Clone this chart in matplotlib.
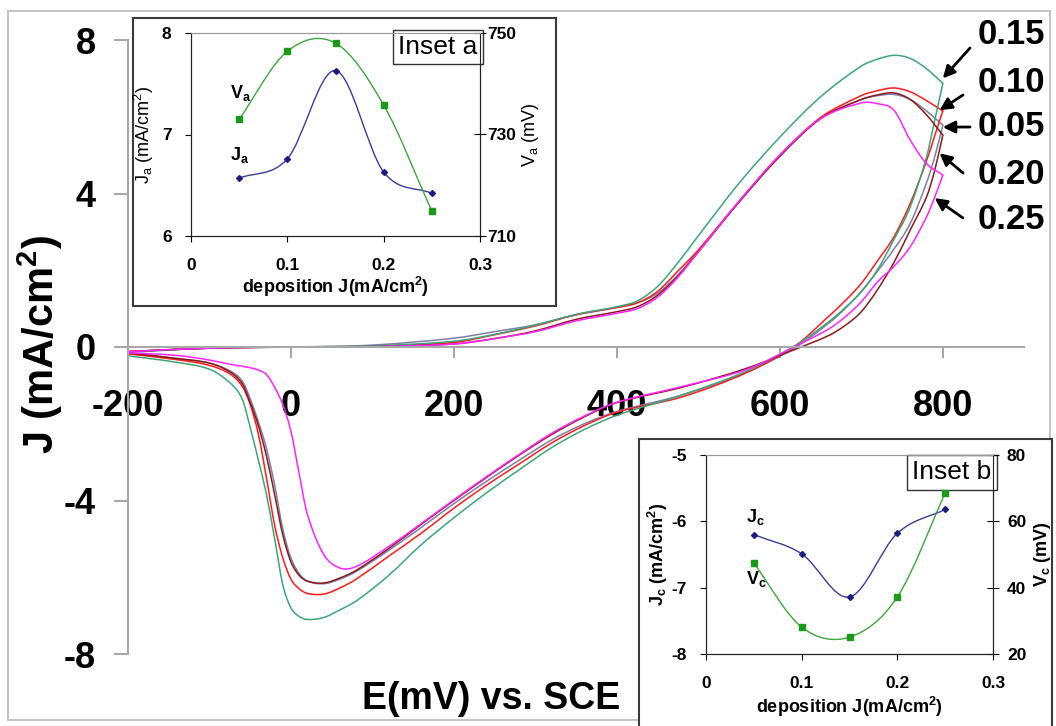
import matplotlib
matplotlib.use('Agg')
import matplotlib.pyplot as plt
from matplotlib.path import Path
from matplotlib.patches import PathPatch, Rectangle

plt.rcParams['font.family'] = ['Liberation Sans', 'DejaVu Sans']
plt.rcParams['mathtext.default'] = 'regular'
plt.rcParams['axes.unicode_minus'] = False

# ---- cyclic voltammograms (E in mV vs SCE, J in mA/cm2) ----
curve_labels = ['0.05', '0.10', '0.15', '0.20', '0.25']
curve_colors = ['#7e7eaa', '#ff1a1a', '#3aa77a', '#8b1a1a', '#ff22ff']

# anodic sweep -200 -> 800 mV
E_fwd = [-200, -100, 0, 100, 200, 250, 300, 350, 400, 425, 450, 475, 500,
         550, 600, 650, 700, 720, 740, 760, 780, 800]
J_fwd_005 = [-0.12, -0.03, 0.0, 0.05, 0.23, 0.40, 0.58, 0.84, 1.03, 1.15, 1.40, 1.88, 2.50,
             3.78, 4.98, 5.95, 6.45, 6.55, 6.58, 6.45, 6.15, 5.78]
J_fwd_010 = [-0.12, -0.03, 0.0, 0.02, 0.12, 0.32, 0.55, 0.84, 1.03, 1.15, 1.45, 1.98, 2.53,
             3.80, 5.00, 5.98, 6.55, 6.68, 6.75, 6.65, 6.42, 6.15]
J_fwd_015 = [-0.14, -0.03, 0.0, 0.03, 0.15, 0.33, 0.57, 0.85, 1.05, 1.20, 1.58, 2.20, 2.90,
             4.27, 5.47, 6.52, 7.32, 7.50, 7.60, 7.52, 7.25, 6.87]
J_fwd_020 = [-0.12, -0.03, 0.0, 0.01, 0.08, 0.22, 0.42, 0.72, 0.92, 1.05, 1.35, 1.85, 2.48,
             3.78, 4.97, 5.95, 6.45, 6.57, 6.62, 6.45, 6.05, 5.52]
J_fwd_025 = [-0.12, -0.03, 0.0, 0.01, 0.08, 0.22, 0.40, 0.68, 0.88, 1.00, 1.30, 1.82, 2.48,
             3.80, 5.00, 5.95, 6.36, 6.34, 6.17, 5.39, 4.78, 4.48]

# cathodic sweep 800 -> -200 mV
E_rev = [800, 790, 780, 760, 740, 720, 700, 680, 660, 620, 560, 480, 400, 360, 320, 280, 240,
         200, 160, 120, 80, 60, 40, 20, 10, 0, -10, -20, -30, -40, -50, -60, -75,
         -100, -140, -200]
J_rev_005 = [5.78, 4.95, 4.28, 3.22, 2.55, 1.98, 1.45, 1.00, 0.62, 0.0, -0.65, -1.25, -1.68, -2.00, -2.42, -2.95, -3.50,
             -4.08, -4.70, -5.30, -5.85, -6.05, -6.17, -6.10, -5.90, -5.50, -4.75, -3.60, -2.65, -1.95, -1.35, -0.88, -0.62,
             -0.42, -0.30, -0.16]
J_rev_010 = [6.15, 5.50, 4.85, 3.74, 2.87, 2.25, 1.66, 1.20, 0.80, 0.05, -0.66, -1.30, -1.70, -2.05, -2.50, -3.05, -3.60,
             -4.20, -4.85, -5.45, -6.05, -6.28, -6.44, -6.42, -6.30, -6.05, -5.50, -4.65, -3.42, -2.27, -1.50, -1.02, -0.70,
             -0.48, -0.33, -0.18]
J_rev_015 = [6.87, 5.90, 4.95, 3.65, 2.80, 2.02, 1.44, 1.02, 0.66, 0.05, -0.62, -1.25, -1.78, -2.15, -2.62, -3.20, -3.80,
             -4.45, -5.15, -5.95, -6.62, -6.85, -7.05, -7.10, -7.02, -6.80, -6.20, -5.00, -3.85, -2.95, -2.10, -1.35, -0.93,
             -0.58, -0.40, -0.23]
J_rev_020 = [5.52, 4.60, 3.91, 3.05, 2.20, 1.50, 0.92, 0.56, 0.30, -0.05, -0.55, -1.05, -1.45, -1.82, -2.28, -2.82, -3.40,
             -4.00, -4.62, -5.25, -5.82, -6.02, -6.15, -6.10, -5.95, -5.60, -4.90, -3.85, -2.85, -2.05, -1.45, -0.95, -0.65,
             -0.42, -0.30, -0.15]
J_rev_025 = [4.48, 3.90, 3.39, 2.61, 2.10, 1.70, 1.18, 0.78, 0.47, 0.03, -0.58, -1.03, -1.44, -1.80, -2.25, -2.80, -3.38,
             -3.98, -4.60, -5.20, -5.72, -5.76, -5.40, -4.35, -3.29, -2.20, -1.50, -1.05, -0.72, -0.60, -0.54, -0.50, -0.45,
             -0.34, -0.22, -0.15]

# ---- insets: peak parameters vs deposition current density ----
dep_J = [0.05, 0.10, 0.15, 0.20, 0.25]
Ja = [6.57, 6.76, 7.63, 6.63, 6.42]
Va = [733.0, 746.4, 748.0, 735.8, 714.9]
Jc = [-6.20, -6.49, -7.14, -6.18, -5.82]
Vc = [47.4, 28.1, 25.1, 37.2, 68.5]


def smooth_path(xs, ys):
    # cubic Hermite bezier through the points, slopes from neighbours
    n = len(xs)
    slopes = []
    for i in range(n):
        a = max(i - 1, 0)
        b = min(i + 1, n - 1)
        slopes.append((ys[b] - ys[a]) / (xs[b] - xs[a]))
    verts = [(xs[0], ys[0])]
    codes = [Path.MOVETO]
    for i in range(n - 1):
        h = (xs[i + 1] - xs[i]) / 3
        verts += [(xs[i] + h, ys[i] + slopes[i] * h),
                  (xs[i + 1] - h, ys[i + 1] - slopes[i + 1] * h),
                  (xs[i + 1], ys[i + 1])]
        codes += [Path.CURVE4] * 3
    return Path(verts, codes)


def smooth_line(ax, xs, ys, color, lw=1.0, zorder=2):
    ax.add_patch(PathPatch(smooth_path(xs, ys), fill=False, edgecolor=color,
                           lw=lw, zorder=zorder, capstyle='round', joinstyle='round'))


fig = plt.figure(figsize=(10.56, 7.26), dpi=100)
W, H = 1056.0, 726.0

# light frame around the whole picture
fig.patches.append(Rectangle((8 / W, 1 - 720 / H), 1042 / W, 709 / H, transform=fig.transFigure,
                             fill=False, ec='#c4c4c4', lw=1.5, zorder=1))

# ---- main voltammogram ----
ax = fig.add_axes([128 / W, 1 - 654 / H, (1024.3 - 128) / W, 614 / H])
ax.set_facecolor('none')
ax.set_xlim(-200, 900)
ax.set_ylim(-8, 8)

fwd = [J_fwd_005, J_fwd_010, J_fwd_015, J_fwd_020, J_fwd_025]
rev = [J_rev_005, J_rev_010, J_rev_015, J_rev_020, J_rev_025]
for jf, jr, c in zip(fwd, rev, curve_colors):
    smooth_line(ax, E_fwd, jf, c, lw=1.1)
    smooth_line(ax, E_rev, jr, c, lw=1.1)

for s in ['top', 'right']:
    ax.spines[s].set_visible(False)
ax.spines['left'].set_color('#a8a8a8')
ax.spines['bottom'].set_color('#a8a8a8')
ax.spines['bottom'].set_position(('data', 0))
ax.spines['left'].set_linewidth(1.5)
ax.spines['bottom'].set_linewidth(1.5)
ax.set_yticks([-8, -4, 0, 4, 8])
ax.set_xticks([-200, 0, 200, 400, 600, 800])
ax.tick_params(axis='y', direction='out', length=10, width=1.5, color='#a8a8a8', pad=13, labelsize=26)
ax.tick_params(axis='x', direction='out', length=8, width=1.5, color='#a8a8a8', pad=22, labelsize=26)
for lbl in ax.get_xticklabels() + ax.get_yticklabels():
    lbl.set_fontweight('bold')

fig.text(40 / W, 1 - 345 / H, 'J (mA/cm$^2$)', rotation=90, ha='center', va='center',
         fontsize=30, fontweight='bold')
fig.text(491 / W, 1 - 699 / H, 'E(mV) vs. SCE', ha='center', va='center',
         fontsize=27, fontweight='bold')

# deposition current labels with arrows to the curves
label_pos = [(1011, 127), (1011, 82), (1011, 35), (1011, 175), (1011, 220)]
arrow_tail = [(970, 127), (963, 95), (970, 48), (963, 173), (963, 218)]
arrow_tip = [(800, 5.73), (796, 6.17), (800, 7.0), (796, 5.05), (790, 3.88)]
for lab, (tx, ty), (ax0, ay0), tip in zip(curve_labels, label_pos, arrow_tail, arrow_tip):
    fig.text(tx / W, 1 - ty / H, lab, ha='center', va='center', fontsize=25, fontweight='bold')
    ax.annotate('', xy=tip, xycoords='data', xytext=(ax0, H - ay0), textcoords='figure pixels',
                arrowprops=dict(arrowstyle='-|>', color='black', lw=2, mutation_scale=18,
                                shrinkA=0, shrinkB=0), annotation_clip=False)

# ---- inset a ----
fig.patches.append(Rectangle((133 / W, 1 - 306 / H), 423 / W, 288 / H, transform=fig.transFigure,
                             fc='white', ec='#3a3a3a', lw=1.5, zorder=2))
axa = fig.add_axes([191 / W, 1 - 236 / H, 289 / W, 203 / H], zorder=3)
axa2 = axa.twinx()
axa2.set_zorder(4)
smooth_line(axa, dep_J, Ja, '#3a3aa0', lw=1.0)
axa.plot(dep_J, Ja, ls='none', marker='D', ms=3, color='#1a1a80', zorder=3)
smooth_line(axa2, dep_J, Va, '#3aa83a', lw=1.0)
axa2.plot(dep_J, Va, ls='none', marker='s', ms=4.5, color='#1a9a1a', zorder=3)
axa.set_xlim(0, 0.3)
axa.set_ylim(6, 8)
axa2.set_ylim(710, 750)
axa.set_xticks([0, 0.1, 0.2, 0.3])
axa.set_xticklabels(['0', '0.1', '0.2', '0.3'])
axa.set_yticks([6, 7, 8])
axa2.set_yticks([710, 730, 750])
axa.set_xlabel('deposition J(mA/cm$^2$)', fontsize=13, fontweight='bold', labelpad=1)
axa.set_ylabel('J$_a$ (mA/cm$^2$)', fontsize=13, labelpad=4)
axa2.set_ylabel('V$_a$ (mV)', fontsize=13, labelpad=3)
axa.text(0.04, 7.41, 'V$_a$', fontsize=13, fontweight='bold', ha='left', va='center')
axa.text(0.04, 6.80, 'J$_a$', fontsize=13, fontweight='bold', ha='left', va='center')
axa.text(0.2975, 7.86, 'Inset a', fontsize=19, ha='right', va='center',
         bbox=dict(boxstyle='square,pad=0.2', fc='white', ec='#333333', lw=1))

# ---- inset b ----
fig.patches.append(Rectangle((639 / W, 1 - 736 / H), 413 / W, 297 / H, transform=fig.transFigure,
                             fc='white', ec='#3a3a3a', lw=1.5, zorder=2))
axb = fig.add_axes([706 / W, 1 - 654 / H, 287 / W, 199 / H], zorder=3)
axb2 = axb.twinx()
axb2.set_zorder(4)
smooth_line(axb, dep_J, Jc, '#3a3aa0', lw=1.0)
axb.plot(dep_J, Jc, ls='none', marker='D', ms=3, color='#1a1a80', zorder=3)
smooth_line(axb2, dep_J, Vc, '#3aa83a', lw=1.0)
axb2.plot(dep_J, Vc, ls='none', marker='s', ms=4.5, color='#1a9a1a', zorder=3)
axb.set_xlim(0, 0.3)
axb.set_ylim(-8, -5)
axb2.set_ylim(20, 80)
axb.set_xticks([0, 0.1, 0.2, 0.3])
axb.set_xticklabels(['0', '0.1', '0.2', '0.3'])
axb.set_yticks([-8, -7, -6, -5])
axb2.set_yticks([20, 40, 60, 80])
axb.set_xlabel('deposition J(mA/cm$^2$)', fontsize=13, fontweight='bold', labelpad=3)
axb.set_ylabel('J$_c$ (mA/cm$^2$)', fontsize=13, fontweight='bold', labelpad=1)
axb2.set_ylabel('V$_c$ (mV)', fontsize=13, fontweight='bold', labelpad=4)
axb.text(0.042, -5.93, 'J$_c$', fontsize=13, fontweight='bold', ha='left', va='center')
axb.text(0.042, -6.87, 'V$_c$', fontsize=13, fontweight='bold', ha='left', va='center')
axb.text(0.2985, -5.26, 'Inset b', fontsize=19, ha='right', va='center',
         bbox=dict(boxstyle='square,pad=0.2', fc='white', ec='#333333', lw=1))

for a, a2, rpad in [(axa, axa2, 1), (axb, axb2, 6)]:
    for s in ['left', 'bottom', 'right']:
        a.spines[s].set_color('#222222')
        a2.spines[s].set_color('#222222')
    a.spines['top'].set_color('#999999')
    a2.spines['top'].set_color('#999999')
    a.tick_params(axis='y', direction='out', length=4, labelsize=12.5, pad=10)
    a.tick_params(axis='x', direction='out', length=4, labelsize=12.5, pad=12)
    a2.tick_params(axis='y', direction='inout', length=8, labelsize=12.5, pad=rpad)
    for lbl in a.get_xticklabels() + a.get_yticklabels() + a2.get_yticklabels():
        lbl.set_fontweight('bold')

fig.savefig('out.png', dpi=100)
